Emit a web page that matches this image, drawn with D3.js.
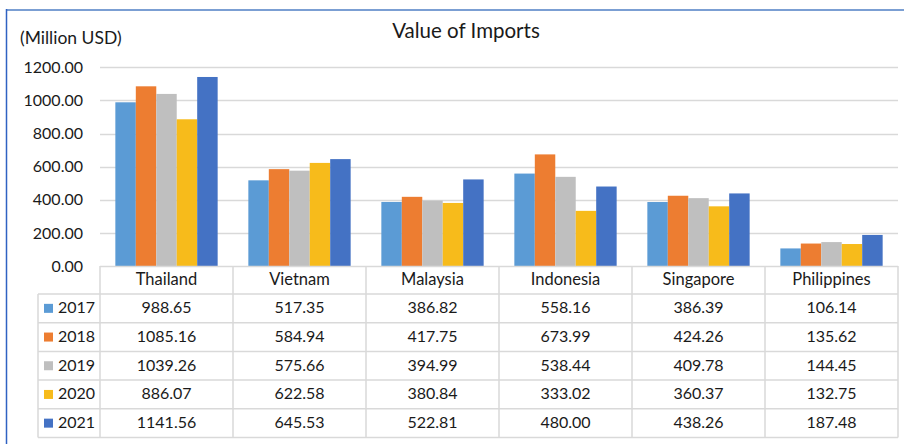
<!DOCTYPE html>
<html>
<head>
<meta charset="utf-8">
<script src="https://cdn.jsdelivr.net/npm/d3@7"></script>
<style>
  body { margin: 0; background: #fff; }
  svg { display: block; font-family: Lato, "Open Sans", sans-serif; }
</style>
</head>
<body>
<svg id="chart" width="904" height="444"></svg>
<script>
const countries = ["Thailand", "Vietnam", "Malaysia", "Indonesia", "Singapore", "Philippines"];
const years = ["2017", "2018", "2019", "2020", "2021"];
const v2017 = [988.65, 517.35, 386.82, 558.16, 386.39, 106.14];
const v2018 = [1085.16, 584.94, 417.75, 673.99, 424.26, 135.62];
const v2019 = [1039.26, 575.66, 394.99, 538.44, 409.78, 144.45];
const v2020 = [886.07, 622.58, 380.84, 333.02, 360.37, 132.75];
const v2021 = [1141.56, 645.53, 522.81, 480.0, 438.26, 187.48];
const yTicks = [0, 200, 400, 600, 800, 1000, 1200];
const colors = ["#5b9bd5", "#ed7d31", "#bfbfbf", "#f7bb1b", "#4472c4"];

const seriesValues = [v2017, v2018, v2019, v2020, v2021];

const svg = d3.select("#chart");
const plotLeft = 100, plotRight = 898, plotTop = 67.3, base = 266;
const rowH = 28.7, headH = 28, legendLeft = 38;
const gridColor = "#d9d9d9";
const textColor = "#1a1a1a";

// frame
svg.append("line").attr("x1", 6).attr("x2", 904).attr("y1", 10).attr("y2", 10)
  .attr("stroke", "#7b9fd3").attr("stroke-width", 2);
svg.append("line").attr("x1", 6.5).attr("x2", 6.5).attr("y1", 9).attr("y2", 444)
  .attr("stroke", "#2f62c2").attr("stroke-width", 1.5);

svg.append("text").attr("x", 466).attr("y", 38).attr("text-anchor", "middle")
  .attr("font-size", 20.5).attr("fill", textColor).text("Value of Imports");
svg.append("text").attr("x", 20).attr("y", 44)
  .attr("font-size", 17.5).attr("fill", textColor).text("(Million USD)");

const x = d3.scaleBand().domain(countries).range([plotLeft, plotRight]);
// gap width 150%: 5 bars plus 1.5 bar widths of gap per category
const xInner = d3.scaleBand().domain(years).range([0, x.bandwidth()])
  .paddingInner(0).paddingOuter(0.75);
const y = d3.scaleLinear().domain([0, 1200]).range([base, plotTop]);

// gridlines
svg.append("g").selectAll("line").data(yTicks.filter(d => d > 0)).join("line")
  .attr("x1", plotLeft).attr("x2", plotRight)
  .attr("y1", d => Math.round(y(d)) + 0.5).attr("y2", d => Math.round(y(d)) + 0.5)
  .attr("stroke", gridColor).attr("stroke-width", 1.3);

// y axis labels
const yAxis = d3.axisLeft(y).tickValues(yTicks).tickFormat(d3.format(".2f")).tickSize(0).tickPadding(0);
const ya = svg.append("g").attr("transform", "translate(83,0)").call(yAxis);
ya.select(".domain").remove();
ya.selectAll("text").attr("font-size", 16).attr("fill", textColor).attr("font-family", "Lato, sans-serif");

// bars
const groups = svg.append("g").selectAll("g").data(countries).join("g")
  .attr("transform", d => `translate(${x(d)},0)`);
groups.selectAll("rect")
  .data((c, i) => years.map((yr, j) => ({ yr, j, v: seriesValues[j][i] })))
  .join("rect")
  .attr("x", d => xInner(d.yr))
  .attr("width", xInner.bandwidth())
  .attr("y", d => y(d.v))
  .attr("height", d => base - y(d.v))
  .attr("fill", d => colors[d.j]);

// data table
const tbl = svg.append("g");
const tableBottom = base + headH + rowH * years.length;
tbl.append("line").attr("x1", plotLeft).attr("x2", plotRight).attr("y1", base + 0.5).attr("y2", base + 0.5)
  .attr("stroke", gridColor).attr("stroke-width", 1.5);
tbl.selectAll("line.h").data(d3.range(years.length + 1)).join("line").attr("class", "h")
  .attr("x1", legendLeft).attr("x2", plotRight)
  .attr("y1", i => base + headH + i * rowH).attr("y2", i => base + headH + i * rowH)
  .attr("stroke", gridColor).attr("stroke-width", 1.5);
tbl.selectAll("line.v").data(d3.range(countries.length + 1)).join("line").attr("class", "v")
  .attr("x1", i => plotLeft + i * x.step()).attr("x2", i => plotLeft + i * x.step())
  .attr("y1", base).attr("y2", tableBottom)
  .attr("stroke", gridColor).attr("stroke-width", 1.5);
tbl.append("line").attr("x1", legendLeft).attr("x2", legendLeft)
  .attr("y1", base + headH).attr("y2", tableBottom)
  .attr("stroke", gridColor).attr("stroke-width", 1.5);

// header
tbl.selectAll("text.head").data(countries).join("text").attr("class", "head")
  .attr("x", d => x(d) + x.bandwidth() / 2).attr("y", base + headH / 2 + 1)
  .attr("text-anchor", "middle").attr("dominant-baseline", "middle")
  .attr("font-size", 16.5).attr("fill", textColor).text(d => d);

// rows
const rows = tbl.selectAll("g.row").data(years).join("g").attr("class", "row")
  .attr("transform", (d, i) => `translate(0,${base + headH + i * rowH + rowH / 2 + 1})`);
rows.append("rect").attr("x", 44).attr("y", -5.5).attr("width", 9).attr("height", 9)
  .attr("fill", (d, i) => colors[i]);
rows.append("text").attr("x", 58).attr("dominant-baseline", "middle")
  .attr("font-size", 16).attr("fill", textColor).text(d => d);
rows.selectAll("text.val")
  .data((yr, j) => countries.map((c, i) => ({ c, v: seriesValues[j][i] })))
  .join("text").attr("class", "val")
  .attr("x", d => x(d.c) + x.bandwidth() / 2)
  .attr("text-anchor", "middle").attr("dominant-baseline", "middle")
  .attr("font-size", 16).attr("fill", textColor)
  .text(d => d3.format(".2f")(d.v));
</script>
</body>
</html>
